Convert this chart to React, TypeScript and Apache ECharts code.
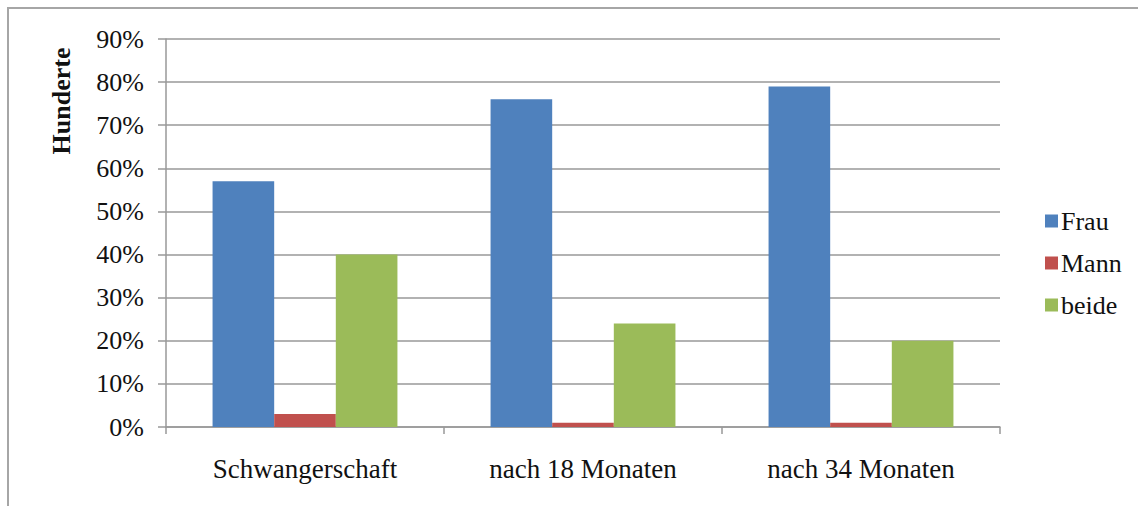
import React, { useEffect, useRef } from "react";
import * as echarts from "echarts";

const categories = ["Schwangerschaft", "nach 18 Monaten", "nach 34 Monaten"];
const frau = [57, 76, 79];
const mann = [3, 1, 1];
const beide = [40, 24, 20];
const seriesNames = ["Frau", "Mann", "beide"];
const yAxisTitle = "Hunderte";

const FONT = "Liberation Serif";

export default function App() {
  const ref = useRef<HTMLDivElement>(null);
  useEffect(() => {
    if (!ref.current) return;
    const chart = echarts.init(ref.current, undefined, { renderer: "svg" });
    chart.setOption({
      animation: false,
      backgroundColor: "#ffffff",
      textStyle: { fontFamily: FONT },
      grid: { left: 166, right: 138, top: 39, bottom: 79, containLabel: false },
      xAxis: {
        type: "category",
        data: categories,
        axisLine: { lineStyle: { color: "#999999", width: 1.5 } },
        axisTick: { show: true, length: 7, lineStyle: { color: "#999999", width: 1.5 } },
        axisLabel: { color: "#111111", fontFamily: FONT, fontSize: 27, margin: 28 },
      },
      yAxis: {
        type: "value",
        min: 0,
        max: 90,
        interval: 10,
        axisLine: { show: true, lineStyle: { color: "#999999", width: 1.5 } },
        axisTick: { show: true, length: 8, lineStyle: { color: "#999999", width: 1.5 } },
        axisLabel: {
          color: "#111111",
          fontFamily: FONT,
          fontSize: 26,
          margin: 22,
          formatter: (v: number) => v + "%",
        },
        splitLine: { show: true, lineStyle: { color: "#999999", width: 1.5 } },
      },
      legend: {
        orient: "vertical",
        left: 1040,
        top: 203,
        itemWidth: 13,
        itemHeight: 13,
        itemGap: 16,
        icon: "rect",
        textStyle: { color: "#111111", fontFamily: FONT, fontSize: 26, padding: [4, 0, 0, -2] },
        data: seriesNames,
      },
      graphic: [
        {
          type: "rect",
          shape: { x: 8, y: 8, width: 1200, height: 600 },
          style: { fill: "none", stroke: "#a6a6a6", lineWidth: 2 },
          silent: true,
        },
        {
          type: "text",
          x: 61,
          y: 101,
          rotation: Math.PI / 2,
          style: {
            text: yAxisTitle,
            fontFamily: FONT,
            fontSize: 26,
            fontWeight: "bold",
            fill: "#111111",
            align: "center",
            verticalAlign: "middle",
          },
        },
      ],
      series: [
        { name: seriesNames[0], type: "bar", data: frau, itemStyle: { color: "#4F81BD" }, barGap: "0%", barCategoryGap: "33.5%" },
        { name: seriesNames[1], type: "bar", data: mann, itemStyle: { color: "#C0504D" }, barGap: "0%", barCategoryGap: "33.5%" },
        { name: seriesNames[2], type: "bar", data: beide, itemStyle: { color: "#9BBB59" }, barGap: "0%", barCategoryGap: "33.5%" },
      ],
    });
    return () => chart.dispose();
  }, []);
  return (
    <div
      ref={ref}
      style={{ position: "absolute", left: 0, top: 0, width: 1138, height: 506 }}
    />
  );
}
